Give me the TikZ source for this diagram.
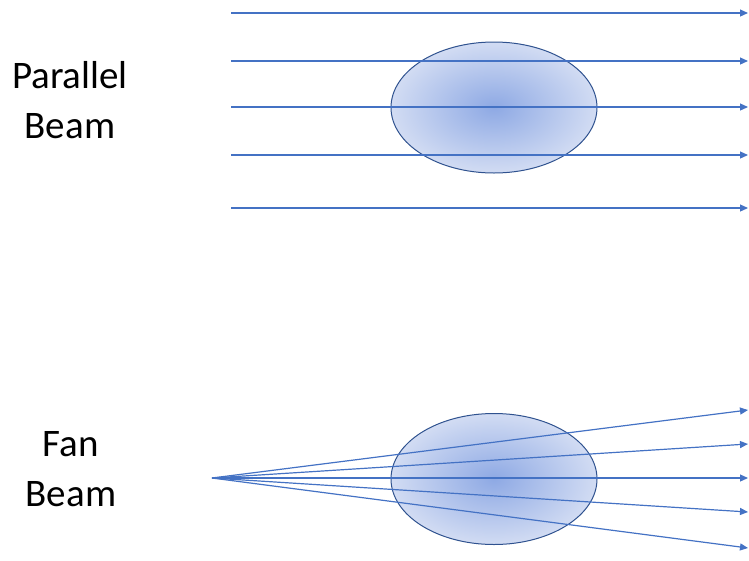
\documentclass[tikz,border=0pt]{standalone}
\usepackage{fontspec}
\setmainfont{Carlito}
\usetikzlibrary{arrows.meta,shapes.geometric}
\definecolor{beamblue}{RGB}{68,114,196}
\definecolor{bodyedge}{RGB}{47,82,143}
\definecolor{bodyin}{RGB}{142,169,228}
\definecolor{bodyout}{RGB}{210,220,243}
\begin{document}
\begin{tikzpicture}[x=1pt, y=-1pt,
            beam/.style={draw=beamblue, line width=1.2pt, -{Triangle[length=8pt, width=7pt]}},
            body/.style={ellipse, draw=bodyedge, line width=1pt, inner color=bodyin, outer color=bodyout,
                minimum width=206pt, minimum height=131pt, inner sep=0pt},
            caption/.style={font=\fontsize{39}{50}\selectfont, align=center}
        ]
            \useasboundingbox (0, 0) rectangle (749, 560);
            \node[body] (par) at (494, 107.5) {};
            \node[body] (fan) at (494, 479)   {};
            \foreach \i/\y in {1/13, 2/61, 3/107, 4/155, 5/208} {
                \coordinate (p\i) at (231, \y);
                \coordinate (q\i) at (748, \y);
                \draw[beam] (p\i) -- (q\i);
            }
            \coordinate (src) at (212, 478);
            \foreach \i/\y in {1/410, 2/444, 3/478, 4/512, 5/548} {
                \coordinate (f\i) at (748, \y);
                \draw[beam] (src) -- (f\i);
            }
            \node[caption] (partext) at (70, 100) {Parallel\\Beam};
            \node[caption] (fantext) at (71, 469) {Fan\\Beam};
        \end{tikzpicture}
\end{document}
